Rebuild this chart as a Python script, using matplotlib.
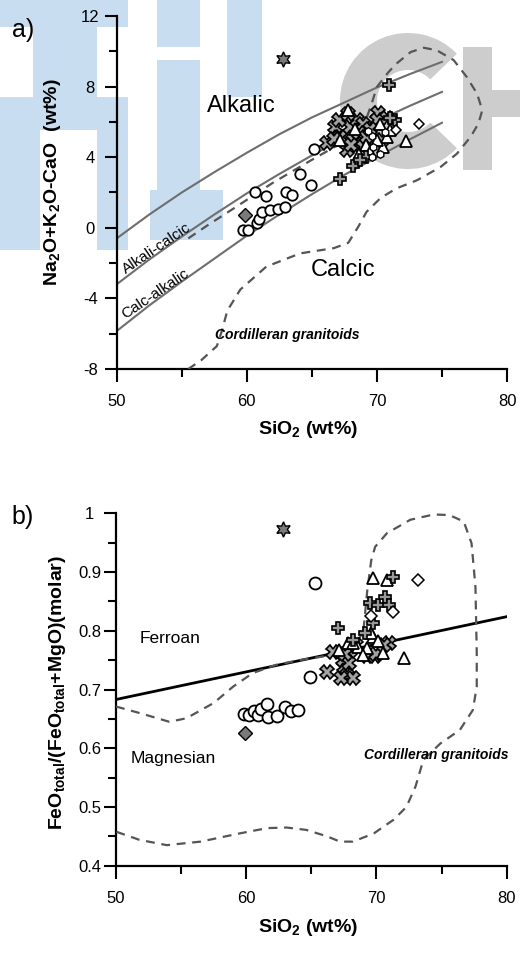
import numpy as np
import matplotlib
matplotlib.use("Agg")
import matplotlib.pyplot as plt
from matplotlib import font_manager
from matplotlib.patches import Rectangle, Wedge
from matplotlib.ticker import MultipleLocator, FormatStrFormatter

# ---- data, panel a (MALI) ----
mali_x = [50, 52.5, 55, 57.5, 60, 62.5, 65, 67.5, 70, 72.5, 75]
alkalic_y = [-0.6, 0.75, 2.0, 3.15, 4.25, 5.3, 6.25, 7.1, 7.95, 8.7, 9.4]
alkcalc_y = [-3.2, -1.8, -0.5, 0.75, 1.95, 3.05, 4.1, 5.1, 6.05, 6.9, 7.7]
calcalk_y = [-5.85, -4.4, -3.05, -1.75, -0.45, 0.75, 1.9, 3.0, 4.0, 5.0, 5.95]

cord_a_x = [55.5, 57.0, 59.0, 62.0, 65.0, 68.0, 69.2, 69.6, 70.0, 70.9, 71.5, 72.6, 73.6,
            74.6, 75.9, 76.9, 77.7, 78.1, 77.8, 77.2, 76.15, 74.9, 73.1, 71.5, 70.3,
            69.2, 68.6, 67.8, 66.7, 64.1, 61.5, 59.5, 58.5, 58.1, 57.7, 56.5, 55.5]
cord_a_y = [-0.6, 0.15, 1.1, 2.55, 3.85, 5.1, 6.2, 7.04, 7.98, 8.83, 9.3, 9.96, 10.2,
            10.06, 9.5, 8.55, 7.6, 6.66, 5.9, 5.15, 4.2, 3.45, 2.7, 2.23, 1.7,
            0.9, 0.1, -0.85, -1.15, -1.45, -2.2, -3.5, -4.7, -5.8, -6.7, -7.5, -8.0]

circ_a_x = [59.7, 60.1, 60.8, 60.9, 61.2, 61.8, 62.4, 62.9, 60.6, 61.5, 63.0, 63.5, 64.9, 64.1, 65.2]
circ_a_y = [-0.1, -0.1, 0.25, 0.5, 0.9, 1.0, 1.05, 1.2, 2.0, 1.8, 2.05, 1.85, 2.45, 3.05, 4.45]
plus_a_x = [70.9, 67.18, 68.2, 69.2, 71.4, 71.0, 68.7]
plus_a_y = [8.1, 2.75, 3.5, 4.0, 6.1, 6.2, 3.85]
x_a_x = [66.15, 66.8, 67.2, 67.7, 67.95, 68.45, 68.97, 70.1, 69.97, 70.77, 68.2, 68.6,
         69.2, 67.05, 67.8, 66.7, 68.0, 69.5, 70.4, 68.9]
x_a_y = [4.8, 5.7, 5.15, 4.4, 5.7, 6.1, 5.9, 6.5, 6.1, 6.2, 4.95, 5.35,
         5.15, 6.1, 6.45, 5.05, 4.7, 5.6, 5.0, 4.6]
tri_a_x = [67.8, 72.2, 67.2, 68.6, 69.2, 70.5, 70.8, 71.0, 69.97, 69.5, 68.3, 70.2]
tri_a_y = [6.65, 4.9, 5.0, 4.2, 4.7, 4.6, 5.15, 5.55, 4.95, 4.3, 5.6, 5.9]
hex_a_x = [69.6, 69.7, 70.25, 69.6, 69.3, 70.6]
hex_a_y = [5.2, 4.6, 4.2, 4.0, 5.5, 5.4]
dia_a_x = [73.2, 71.5]
dia_a_y = [5.9, 5.55]
gdia_a = (59.9, 0.75)
star_a = (62.75, 9.55)

# ---- data, panel b (Fe-number) ----
fe_line_x = [50, 80]
fe_line_y = [0.683, 0.824]

cord_b_x = [50.0, 51.8, 54.1, 55.4, 57.5, 59.0, 60.5, 62.3, 64.1, 66.7, 68.2, 69.0, 69.3,
            69.6, 69.9, 70.8, 72.6, 74.4, 75.6, 76.7, 77.3, 77.6, 77.7, 77.7, 77.4,
            76.4, 74.9, 73.6, 73.0, 72.3, 71.3, 69.8, 68.2, 67.2, 66.2, 64.6, 63.1,
            61.6, 59.5, 56.5, 53.9, 51.8, 50.0]
cord_b_y = [0.671, 0.66, 0.645, 0.651, 0.677, 0.705, 0.728, 0.742, 0.75, 0.759, 0.767, 0.80, 0.87,
            0.92, 0.943, 0.966, 0.989, 0.998, 0.997, 0.986, 0.949, 0.875, 0.762, 0.705, 0.665,
            0.631, 0.608, 0.58, 0.535, 0.50, 0.478, 0.455, 0.441, 0.441, 0.45, 0.461, 0.465,
            0.464, 0.455, 0.441, 0.435, 0.444, 0.458]

circ_b_x = [65.3, 64.9, 59.8, 60.2, 60.6, 60.9, 61.1, 61.6, 61.7, 62.4, 63.0, 63.4, 64.0]
circ_b_y = [0.881, 0.721, 0.658, 0.656, 0.663, 0.657, 0.666, 0.675, 0.653, 0.655, 0.670, 0.664, 0.665]
plus_b_x = [71.3, 67.07, 69.5, 70.15, 70.66, 71.0, 69.76, 69.12, 68.2]
plus_b_y = [0.892, 0.804, 0.847, 0.844, 0.857, 0.844, 0.813, 0.796, 0.784]
x_b_x = [66.2, 66.7, 67.5, 67.7, 68.2, 67.4, 67.9, 67.3, 68.0, 69.3, 69.9, 70.0, 71.0, 70.6, 67.6, 68.4]
x_b_y = [0.730, 0.764, 0.739, 0.725, 0.719, 0.750, 0.745, 0.720, 0.765, 0.757, 0.757, 0.760, 0.779, 0.775, 0.760, 0.775]
tri_b_x = [69.7, 70.8, 72.1, 67.15, 67.84, 68.6, 69.25, 69.76, 70.5, 69.0, 69.6, 68.2, 70.1]
tri_b_y = [0.889, 0.886, 0.753, 0.767, 0.779, 0.773, 0.770, 0.790, 0.762, 0.759, 0.796, 0.78, 0.782]
dia_b_x = [73.2, 71.3, 69.6]
dia_b_y = [0.886, 0.832, 0.825]
gdia_b = (59.9, 0.626)
star_b = (62.8, 0.973)


def pick(fam, alt):
    try:
        font_manager.findfont(fam, fallback_to_default=False)
        return fam
    except Exception:
        return alt


TICKFONT = pick("Liberation Sans Narrow", "Liberation Sans")
plt.rcParams['font.family'] = ['Liberation Sans', 'DejaVu Sans']
plt.rcParams['mathtext.fontset'] = 'custom'
plt.rcParams['mathtext.rm'] = 'Liberation Sans'
plt.rcParams['mathtext.bf'] = 'Liberation Sans:bold'
plt.rcParams['mathtext.default'] = 'bf'

W, H = 520, 955
fig = plt.figure(figsize=(W / 100, H / 100), dpi=100)

# watermark behind the chart (pixel coordinates)
bg = fig.add_axes([0, 0, 1, 1], zorder=-5)
bg.set_xlim(0, W)
bg.set_ylim(H, 0)
bg.axis('off')
blue = '#c8ddef'
grey = '#cdcdcd'
for (x0, y0, x1, y1) in [(0, 0, 128, 27), (33, 27, 97, 97), (0, 97, 128, 130),
                         (0, 130, 40, 250), (97, 130, 128, 250),
                         (157, 0, 200, 47), (157, 60, 200, 240), (150, 190, 223, 240),
                         (227, 0, 262, 97)]:
    bg.add_patch(Rectangle((x0, y0), x1 - x0, y1 - y0, color=blue, lw=0))
bg.add_patch(Wedge((408, 101), 68, 44, 316, width=37, color=grey, lw=0))
bg.add_patch(Rectangle((463, 47), 29, 123, color=grey, lw=0))
bg.add_patch(Rectangle((492, 90), 30, 27, color=grey, lw=0))


def style_axes(ax):
    ax.set_facecolor('none')
    for s in ['top', 'right']:
        ax.spines[s].set_visible(False)
    for s in ['left', 'bottom']:
        ax.spines[s].set_linewidth(1.6)
    ax.tick_params(which='major', length=9, width=1.5, direction='out', labelsize=12)
    ax.tick_params(which='minor', length=6, width=1.5, direction='out')
    ax.tick_params(axis='x', which='major', pad=9)
    ax.tick_params(axis='y', which='major', pad=10)
    ax.set_xlim(50, 80)
    ax.xaxis.set_major_locator(MultipleLocator(10))
    ax.xaxis.set_minor_locator(MultipleLocator(5))
    for lbl in ax.get_xticklabels() + ax.get_yticklabels():
        lbl.set_fontfamily(TICKFONT)
    plt.setp(ax.get_yticklabels(), ha='center')


def draw_points(ax, d, big):
    s = 1.0 if not big else 1.15
    mk = dict(linestyle='none', markeredgecolor='black')
    ax.plot(d['circ'][0], d['circ'][1], 'o', ms=7.5 * s, mfc='white', mew=1.3, zorder=5, **mk)
    ax.plot(d['x'][0], d['x'][1], 'X', ms=9.5, mfc='#a3a3a3', mew=1.2, zorder=5, **mk)
    ax.plot(d['tri'][0], d['tri'][1], '^', ms=8 * s, mfc='white', mew=1.3, zorder=6, **mk)
    ax.plot(d['plus'][0], d['plus'][1], 'P', ms=9, mfc='#999999', mew=1.2, zorder=7, **mk)
    if d.get('hex'):
        ax.plot(d['hex'][0], d['hex'][1], 'h', ms=5.5, mfc='white', mew=1.0, zorder=7, **mk)
    ax.plot(d['dia'][0], d['dia'][1], 'D', ms=5.5 * s, mfc='white', mew=1.1, zorder=7, **mk)
    ax.plot([d['gdia'][0]], [d['gdia'][1]], 'D', ms=7, mfc='#7a7a7a', mew=1.0, zorder=7, **mk)
    ax.plot([d['star'][0]], [d['star'][1]], marker=(6, 1, 0), ms=11, mfc='#7a7a7a', mew=1.0,
            zorder=7, **mk)


# ---------------- panel a ----------------
axA = fig.add_axes([116.7 / W, 1 - 369 / H, 390.3 / W, 353 / H], zorder=1)
axA.set_ylim(-8, 12)
axA.yaxis.set_major_locator(MultipleLocator(4))
axA.yaxis.set_minor_locator(MultipleLocator(2))
axA.yaxis.set_major_formatter(FormatStrFormatter('%d'))
style_axes(axA)
for yy in [alkalic_y, alkcalc_y, calcalk_y]:
    axA.plot(mali_x, yy, color='#6e6e6e', lw=1.5, zorder=2)
axA.plot(cord_a_x, cord_a_y, color='#555555', lw=1.6, dashes=(4, 3), zorder=3)
draw_points(axA, dict(circ=(circ_a_x, circ_a_y), tri=(tri_a_x, tri_a_y), x=(x_a_x, x_a_y),
                      plus=(plus_a_x, plus_a_y), hex=(hex_a_x, hex_a_y), dia=(dia_a_x, dia_a_y),
                      gdia=gdia_a, star=star_a), False)
axA.text(59.6, 6.9, 'Alkalic', fontsize=17, ha='center', va='center')
axA.text(67.4, -2.4, 'Calcic', fontsize=17, ha='center', va='center')
axA.text(53.1, -1.17, 'Alkali-calcic', fontsize=11, rotation=34, ha='center', va='center',
         rotation_mode='anchor')
axA.text(53.0, -3.75, 'Calc-alkalic', fontsize=11, rotation=34, ha='center', va='center',
         rotation_mode='anchor')
axA.text(63.1, -6.05, 'Cordilleran granitoids', fontsize=10, fontweight='bold',
         style='italic', ha='center', va='center')

# ---------------- panel b ----------------
axB = fig.add_axes([116 / W, 1 - 865.7 / H, 390.7 / W, 352.4 / H], zorder=1)
axB.set_ylim(0.4, 1.0)
axB.yaxis.set_major_locator(MultipleLocator(0.1))
axB.yaxis.set_minor_locator(MultipleLocator(0.05))
axB.yaxis.set_major_formatter(FormatStrFormatter('%g'))
style_axes(axB)
axB.plot(fe_line_x, fe_line_y, color='black', lw=2.0, zorder=2)
axB.plot(cord_b_x, cord_b_y, color='#555555', lw=1.6, dashes=(4, 3), zorder=3)
draw_points(axB, dict(circ=(circ_b_x, circ_b_y), tri=(tri_b_x, tri_b_y), x=(x_b_x, x_b_y),
                      plus=(plus_b_x, plus_b_y), dia=(dia_b_x, dia_b_y),
                      gdia=gdia_b, star=star_b), True)
axB.text(54.15, 0.787, 'Ferroan', fontsize=12.5, ha='center', va='center')
axB.text(54.4, 0.583, 'Magnesian', fontsize=12.5, ha='center', va='center')
axB.text(74.6, 0.589, 'Cordilleran granitoids', fontsize=10, fontweight='bold',
         style='italic', ha='center', va='center')


# axis titles and panel letters (pixel positions)
def ftext(px, py, s, **kw):
    fig.text(px / W, 1 - py / H, s, ha='center', va='center', **kw)


ftext(53, 182, r'Na$_2$O+K$_2$O-CaO  (wt%)', rotation=90, fontsize=14, fontweight='bold')
ftext(308, 430, r'SiO$_2$ (wt%)', fontsize=14, fontweight='bold')
ftext(57, 692, r'FeO$_{total}$/(FeO$_{total}$+MgO)(molar)', rotation=90, fontsize=14,
      fontweight='bold')
ftext(308, 927, r'SiO$_2$ (wt%)', fontsize=14, fontweight='bold')
ftext(23, 30, 'a)', fontsize=18)
ftext(23, 517, 'b)', fontsize=18)

fig.savefig('out.png', dpi=100)
